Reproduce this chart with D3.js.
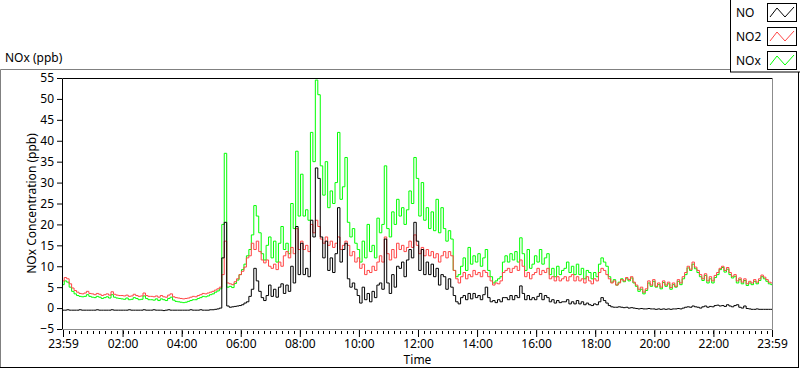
<!DOCTYPE html>
<html>
<head>
<meta charset="utf-8">
<script src="https://cdn.jsdelivr.net/npm/d3@7"></script>
<style>
  body { margin: 0; background: #fff; }
  text { font-family: "Noto Sans", sans-serif; font-size: 12px; fill: #000; }
</style>
</head>
<body>
<script>
// muestras cada 5 minutos desde 23:59 hasta 23:59 del día siguiente
const inicio = new Date(2020, 0, 1, 23, 59);
const pasoMinutos = 5;

const series = ["NO", "NO2", "NOx"];
const colores = ["#000000", "#ff4545", "#00ff00"];

const etiquetasHora = ["23:59", "02:00", "04:00", "06:00", "08:00", "10:00", "12:00",
  "14:00", "16:00", "18:00", "20:00", "22:00", "23:59"];
const ticksY = [-5, 0, 5, 10, 15, 20, 25, 30, 35, 40, 45, 50, 55];

const valoresNO = [
  -0.5, -0.5, -0.4, -0.5, -0.5, -0.5, -0.5, -0.4, -0.5, -0.5, -0.5, -0.5,
  -0.5, -0.5, -0.4, -0.5, -0.5, -0.5, -0.5, -0.5, -0.4, -0.5, -0.5, -0.5,
  -0.5, -0.5, -0.5, -0.4, -0.5, -0.5, -0.5, -0.5, -0.5, -0.4, -0.5, -0.5,
  -0.5, -0.4, -0.5, -0.5, -0.5, -0.6, -0.5, -0.4, -0.5, -0.5, -0.5, -0.5,
  -0.5, -0.5, -0.5, -0.5, -0.4, -0.5, -0.5, -0.5, -0.4, -0.5, -0.5, -0.5,
  -0.4, -0.4, -0.3, -0.2, 0.0, 12.0, 20.5, 0.5, 0.2, 0.3, 0.4, 0.5,
  0.6, 0.8, 1.2, 1.5, 2.8, 4.5, 9.5, 6.5, 4.0, 2.5, 1.8, 3.0,
  5.5, 2.8, 4.5, 2.6, 5.0, 5.8, 3.5, 5.5, 4.0, 10.0, 6.0, 19.5,
  8.0, 15.5, 8.0, 9.5, 7.5, 21.0, 17.0, 33.5, 31.0, 17.0, 12.0, 16.0,
  9.0, 12.0, 8.5, 13.0, 24.0, 11.0, 14.0, 15.5, 7.0, 5.0, 6.0, 4.5,
  3.0, 1.2, 5.0, 2.0, 3.5, 1.5, 4.0, 2.5, 5.5, 6.0, 4.5, 16.5,
  6.0, 3.5, 8.0, 5.0, 10.0, 9.5, 11.0, 7.5, 11.5, 14.0, 12.0, 20.5,
  16.0, 9.0, 14.0, 8.0, 11.0, 8.0, 10.5, 7.5, 9.5, 5.5, 8.0, 7.5,
  4.5, 7.0, 5.0, 3.0, 1.5, 1.0, 2.5, 3.0, 2.0, 3.5, 2.2, 3.5,
  2.5, 3.0, 2.0, 3.2, 5.0, 2.5, 1.5, 1.8, 1.3, 2.0, 1.5, 2.5,
  2.5, 2.0, 3.0, 2.0, 3.0, 2.5, 5.3, 3.5, 2.0, 3.0, 2.0, 2.5,
  2.0, 2.8, 3.5, 2.0, 3.0, 2.5, 1.5, 2.0, 1.2, 1.8, 1.3, 1.5,
  1.5, 2.0, 1.0, 1.5, 1.0, 1.8, 1.0, 1.5, 0.8, 1.2, 0.8, 0.6,
  1.0, 0.8, 1.5, 2.5, 1.8, 1.2, 0.6, 0.3, 0.2, 0.2, 0.3, 0.2,
  0.1, 0.2, 0.0, 0.1, 0.0, -0.1, -0.2, -0.1, -0.2, -0.2, -0.1, -0.2,
  -0.2, -0.3, -0.2, -0.3, -0.2, -0.3, -0.2, -0.3, -0.2, -0.2, -0.1, -0.2,
  0.0, 0.2, 0.3, 0.2, 0.5, 0.3, 0.2, 0.0, 0.3, 0.5, 0.2, 0.4,
  0.3, 0.6, 0.7, 0.5, 0.6, 0.4, 0.8, 0.5, 0.3, 0.6, 0.8, 0.2,
  0.0, 0.5, -0.1, -0.2, -0.3, -0.3, -0.2, -0.3, -0.3, -0.3, -0.3, -0.3, -0.3
];

const valoresNO2 = [
  6.5, 7.3, 7.0, 5.8, 4.8, 4.2, 3.8, 3.5, 3.4, 3.6, 4.0, 3.5,
  3.4, 3.2, 3.5, 3.3, 3.0, 3.2, 3.4, 3.1, 3.9, 3.3, 3.1, 3.0,
  3.0, 2.9, 3.1, 2.8, 2.9, 3.3, 3.0, 2.8, 2.9, 3.6, 3.0, 2.8,
  2.8, 2.7, 2.9, 2.6, 3.0, 2.7, 2.6, 3.1, 3.4, 2.7, 2.5, 2.4,
  2.3, 2.2, 2.3, 2.4, 2.6, 2.8, 2.7, 3.0, 3.2, 3.5, 3.4, 3.6,
  3.8, 4.0, 4.3, 4.6, 5.0, 8.0, 16.0, 6.0, 5.8, 5.6, 6.3, 7.0,
  8.0, 8.8, 9.8, 12.0, 12.5, 15.5, 14.0, 16.0, 13.5, 11.5, 10.8, 11.5,
  10.0, 9.5, 10.5, 9.2, 11.0, 10.0, 12.5, 13.5, 12.0, 14.5, 13.0, 19.0,
  14.0, 16.0, 14.0, 15.0, 13.5, 20.0, 18.0, 21.0, 19.5, 16.5, 15.5, 17.0,
  15.0, 16.0, 14.5, 15.5, 17.0, 14.0, 15.0, 16.0, 15.0, 12.5, 13.5, 11.0,
  12.0, 9.5, 10.5, 8.0, 9.0, 8.5, 10.0, 9.0, 11.0, 12.5, 11.0, 17.0,
  13.0, 11.5, 14.0, 12.0, 15.5, 14.0, 15.0, 13.5, 14.5, 16.0, 14.5, 17.5,
  15.0, 13.0, 14.5, 12.5, 14.0, 12.5, 13.5, 12.0, 13.0, 11.0, 12.5, 13.5,
  12.0, 13.5, 12.5, 9.0, 7.0, 6.0, 7.5, 8.5, 7.0, 8.0, 7.5, 9.0,
  8.0, 8.5, 7.5, 9.0, 8.5, 7.5, 6.5, 5.5, 6.0, 5.8, 6.5, 8.5,
  9.0, 9.5, 8.5, 9.5, 10.0, 9.0, 11.5, 10.0, 7.5, 8.5, 7.0, 8.0,
  8.5, 9.5, 8.0, 9.0, 8.5, 9.5, 7.0, 7.5, 6.5, 7.5, 6.5, 7.0,
  7.5, 6.5, 7.5, 8.0, 6.5, 7.5, 6.5, 7.0, 6.0, 7.5, 6.5, 5.8,
  7.0, 6.5, 8.5, 9.5, 9.0, 8.0, 7.0, 6.0, 6.5, 5.5, 6.0, 6.8,
  6.5, 7.3, 6.8, 7.5, 6.2, 5.5, 4.5, 5.0, 3.8, 4.6, 6.5, 5.5,
  6.8, 5.2, 6.0, 5.0, 6.5, 5.5, 6.2, 4.9, 6.0, 5.2, 6.8, 6.0,
  7.5, 8.5, 10.0, 9.3, 11.0, 9.8, 9.0, 8.0, 7.0, 8.2, 6.5, 7.5,
  6.5, 7.8, 8.5, 9.5, 10.0, 9.0, 9.7, 8.5, 7.6, 8.0, 6.5, 7.2,
  6.2, 7.0, 5.8, 6.4, 6.0, 6.8, 6.2, 7.0, 7.9, 7.4, 6.8, 6.2, 6.0
];

const valoresNOx = [
  5.6, 6.5, 6.2, 5.0, 4.0, 3.4, 3.0, 2.8, 2.7, 2.8, 3.2, 2.8,
  2.6, 2.5, 2.8, 2.6, 2.3, 2.5, 2.7, 2.4, 3.2, 2.6, 2.4, 2.3,
  2.2, 2.1, 2.4, 2.0, 2.1, 2.5, 2.3, 2.0, 2.1, 2.9, 2.3, 2.0,
  2.0, 1.9, 2.2, 1.8, 2.2, 2.0, 1.8, 2.3, 2.6, 1.9, 1.6, 1.5,
  1.4, 1.3, 1.4, 1.6, 1.8, 2.0, 2.0, 2.3, 2.5, 2.8, 2.7, 2.9,
  3.2, 3.4, 3.8, 4.1, 4.6, 20.0, 37.0, 5.0, 5.2, 4.9, 5.9, 6.7,
  8.0, 9.2, 10.5, 12.5, 14.0, 17.5, 24.5, 22.0, 18.0, 13.0, 11.5, 15.0,
  17.0, 12.0, 16.0, 11.0, 15.5, 19.5, 14.0, 15.5, 13.0, 25.0, 19.0, 37.5,
  22.0, 32.0, 22.0, 23.5, 21.0, 42.0, 35.0, 54.5, 51.0, 34.0, 27.0, 35.0,
  24.0, 28.0, 25.0, 30.0, 42.0, 26.0, 29.0, 36.0, 20.5, 17.0, 19.0, 15.5,
  14.0, 11.0, 16.0, 12.0, 20.0, 13.5, 15.0, 12.0, 21.5, 18.0, 20.0, 34.0,
  19.0, 17.0, 23.0, 20.0, 26.0, 22.0, 24.0, 20.0, 23.5, 28.0, 25.0, 36.0,
  31.0, 22.0, 30.0, 21.0, 24.0, 19.0, 23.0, 18.5, 26.0, 18.0, 24.0, 19.0,
  16.0, 18.5, 16.5, 9.0, 7.5, 8.0, 10.0, 12.0, 9.0, 14.5, 10.5, 12.5,
  11.0, 13.0, 10.0, 12.0, 14.0, 9.0, 7.5, 6.0, 6.5, 7.0, 7.5, 11.0,
  12.5, 11.0, 13.0, 11.5, 13.5, 11.0, 16.8, 13.0, 9.0, 14.0, 9.5, 10.5,
  12.5, 11.0, 14.0, 10.5, 12.0, 13.0, 8.0, 9.5, 7.5, 10.0, 8.0, 9.0,
  9.5, 11.0, 8.5, 10.0, 8.0, 10.5, 8.0, 9.5, 7.0, 9.0, 8.5, 7.0,
  8.5, 7.5, 10.5, 12.0, 11.0, 10.0, 7.5, 6.2, 6.8, 5.5, 6.2, 7.0,
  6.3, 7.0, 6.5, 7.2, 6.0, 5.2, 4.0, 4.5, 3.4, 4.2, 6.0, 5.2,
  6.4, 5.0, 5.6, 4.6, 6.1, 5.2, 5.8, 4.5, 5.6, 5.0, 6.4, 5.6,
  7.0, 8.0, 9.6, 9.0, 10.5, 9.4, 8.5, 7.5, 6.6, 7.8, 6.0, 7.0,
  6.0, 7.3, 8.0, 9.2, 9.7, 8.6, 9.3, 8.0, 7.2, 7.6, 6.0, 6.8,
  5.8, 6.6, 5.4, 6.0, 5.6, 6.4, 5.8, 6.6, 7.5, 7.0, 6.4, 5.8, 5.6
];

const width = 800;
const height = 369;
const margin = { top: 78, right: 28, bottom: 40, left: 62 };
const fin = d3.timeDay.offset(inicio, 1);

const svg = d3.select("body").append("svg")
  .attr("width", width)
  .attr("height", height);

// marco del panel (borde hundido)
const marco = svg.append("g");
marco.append("line").attr("x1", 0.5).attr("x2", 730).attr("y1", 69.5).attr("y2", 69.5).attr("stroke", "#808080");
marco.append("line").attr("x1", 0.5).attr("x2", 0.5).attr("y1", 69.5).attr("y2", 368).attr("stroke", "#808080");
marco.append("line").attr("x1", 0).attr("x2", 799).attr("y1", 367.5).attr("y2", 367.5).attr("stroke", "#000");
marco.append("line").attr("x1", 798.5).attr("x2", 798.5).attr("y1", 72).attr("y2", 368).attr("stroke", "#000");

svg.append("text").attr("x", 5).attr("y", 62).text("NOx (ppb)");

const x = d3.scaleTime()
  .domain([inicio, fin])
  .range([margin.left + 1, width - margin.right]);

const y = d3.scaleLinear()
  .domain([ticksY[0], ticksY[ticksY.length - 1]])
  .range([height - margin.bottom, margin.top]);

const tiempos = valoresNO.map((_, i) => d3.timeMinute.offset(inicio, i * pasoMinutos));

const fechaEtiqueta = (txt, i) => {
  if (i === 0) return inicio;
  if (i === etiquetasHora.length - 1) return fin;
  const [h, m] = txt.split(":").map(Number);
  return new Date(2020, 0, 2, h, m);
};
const fechasEtiquetas = etiquetasHora.map(fechaEtiqueta);

// lineas de datos, NOx debajo y NO encima
const datos = [valoresNO, valoresNO2, valoresNOx];
const linea = d3.line()
  .x((d, i) => x(tiempos[i]))
  .y((d) => y(d))
  .curve(d3.curveStep);

const contenedorLineas = svg.append("g");
contenedorLineas.selectAll("path")
  .data([2, 1, 0])
  .join("path")
  .attr("d", (k) => linea(datos[k]))
  .attr("fill", "none")
  .attr("stroke", (k) => colores[k])
  .attr("stroke-width", 1);

// borde del area de graficado
const x0 = margin.left + 0.5, x1 = width - margin.right + 0.5;
const y0 = margin.top + 0.5, y1 = height - margin.bottom + 0.5;
svg.append("line").attr("x1", x0).attr("x2", x1).attr("y1", y0).attr("y2", y0).attr("stroke", "#000");
svg.append("line").attr("x1", x0).attr("x2", x0).attr("y1", y0).attr("y2", y1).attr("stroke", "#000");
svg.append("line").attr("x1", x0).attr("x2", x1).attr("y1", y1).attr("y2", y1).attr("stroke", "#8c8c8c");
svg.append("line").attr("x1", x1).attr("x2", x1).attr("y1", y0).attr("y2", y1).attr("stroke", "#8c8c8c");

// eje Y
const ejeY = d3.axisLeft(y).tickValues(ticksY).tickSize(5).tickPadding(3);
const contenedorEjeY = svg.append("g")
  .attr("transform", `translate(${margin.left}, 0)`)
  .call(ejeY);
contenedorEjeY.select(".domain").remove();
contenedorEjeY.selectAll("text").attr("font-size", 12).attr("font-family", "Noto Sans");

// eje X: ticks menores cada 12 minutos
const menores = d3.timeMinute.every(12).range(inicio, fin);
svg.append("g").selectAll("line")
  .data(menores)
  .join("line")
  .attr("x1", (d) => Math.round(x(d)) + 0.5)
  .attr("x2", (d) => Math.round(x(d)) + 0.5)
  .attr("y1", height - margin.bottom + 2)
  .attr("y2", height - margin.bottom + 5)
  .attr("stroke", "#000");

const ejeX = d3.axisBottom(x)
  .tickValues(fechasEtiquetas)
  .tickFormat((d, i) => etiquetasHora[i])
  .tickSize(7)
  .tickPadding(2);
const contenedorEjeX = svg.append("g")
  .attr("transform", `translate(0, ${height - margin.bottom + 1})`)
  .call(ejeX);
contenedorEjeX.select(".domain").remove();
contenedorEjeX.selectAll("text").attr("font-size", 12).attr("font-family", "Noto Sans");

svg.append("text")
  .attr("x", (x.range()[0] + x.range()[1]) / 2)
  .attr("y", 364)
  .attr("text-anchor", "middle")
  .text("Time");

svg.append("text")
  .attr("transform", `translate(36, ${(y.range()[0] + y.range()[1]) / 2}) rotate(-90)`)
  .attr("text-anchor", "middle")
  .text("NOx Concentration (ppb)");

// leyenda
const leyenda = svg.append("g");
leyenda.append("rect").attr("x", 730.5).attr("y", -1).attr("width", 80).attr("height", 73)
  .attr("fill", "#fff").attr("stroke", "#000");
const filas = leyenda.selectAll("g.fila")
  .data(series)
  .join("g")
  .attr("class", "fila")
  .attr("transform", (d, i) => `translate(0, ${i * 24})`);
filas.append("text").attr("x", 736).attr("y", 17).text((d) => d);
filas.append("rect").attr("x", 767.5).attr("y", 3.5).attr("width", 29).attr("height", 18)
  .attr("fill", "#fff").attr("stroke", "#000");
filas.append("path")
  .attr("d", "M770,17L777,8L785,17L794,7")
  .attr("fill", "none")
  .attr("stroke", (d, i) => colores[i]);
</script>
</body>
</html>
